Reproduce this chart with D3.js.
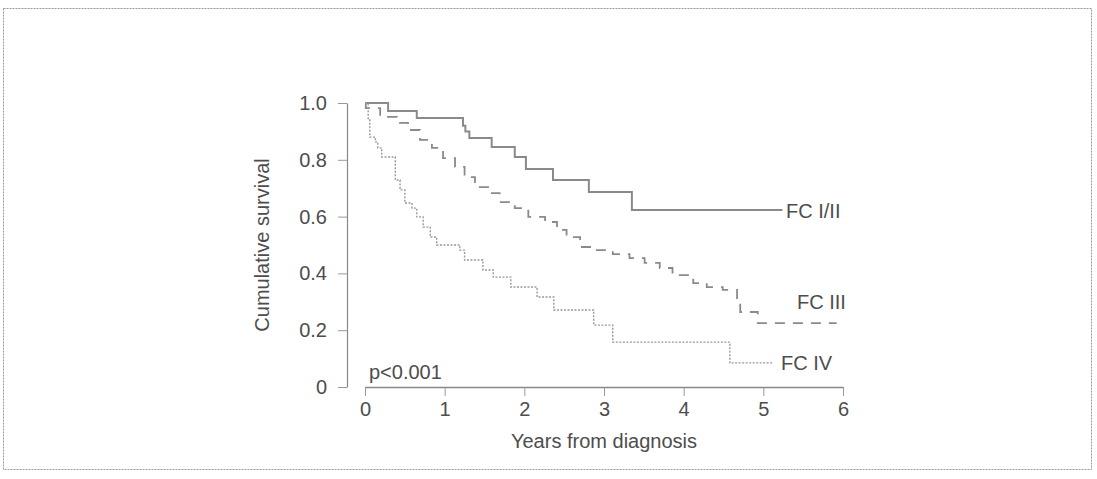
<!DOCTYPE html>
<html>
<head>
<meta charset="utf-8">
<script src="https://cdn.jsdelivr.net/npm/d3@7"></script>
<style>
  body { margin: 0; background: #fff; }
  text { font-family: "Liberation Sans", Arial, sans-serif; fill: #4d4d4d; }
</style>
</head>
<body>
<div id="chart"></div>
<script>
// survival curves (years, cumulative survival)
var fc12Times = [0, 0.29, 0.65, 1.23, 1.26, 1.31, 1.59, 1.88, 2.02, 2.36, 2.81, 3.35, 5.24];
var fc12Surv  = [1.0, 0.972, 0.947, 0.92, 0.90, 0.877, 0.845, 0.81, 0.768, 0.729, 0.687, 0.623, 0.623];

var fc3Times = [0, 0.01, 0.19, 0.40, 0.54, 0.69, 0.84, 0.98, 1.13, 1.25, 1.38, 1.57, 1.69, 1.88, 2.05,
                2.26, 2.41, 2.53, 2.70, 2.91, 3.11, 3.32, 3.51, 3.70, 3.86, 4.12, 4.29, 4.49, 4.67, 4.71, 4.93, 5.92];
var fc3Surv  = [1.0, 0.982, 0.951, 0.930, 0.905, 0.870, 0.842, 0.806, 0.775, 0.739, 0.704, 0.683, 0.651, 0.630, 0.599,
                0.581, 0.553, 0.528, 0.493, 0.482, 0.468, 0.454, 0.437, 0.419, 0.394, 0.366, 0.352, 0.342, 0.313, 0.264, 0.225, 0.225];

var fc4Times = [0, 0.04, 0.06, 0.13, 0.16, 0.21, 0.38, 0.44, 0.50, 0.59, 0.65, 0.73, 0.82, 0.90,
                1.19, 1.25, 1.48, 1.61, 1.83, 2.16, 2.37, 2.87, 3.11, 4.58, 5.12];
var fc4Surv  = [1.0, 0.94, 0.880, 0.863, 0.842, 0.810, 0.729, 0.694, 0.648, 0.630, 0.599, 0.563, 0.528, 0.500,
                0.482, 0.447, 0.412, 0.387, 0.352, 0.317, 0.271, 0.218, 0.158, 0.085, 0.085];

var yTicks = [0, 0.2, 0.4, 0.6, 0.8, 1.0];
var yTickLabels = ["0", "0.2", "0.4", "0.6", "0.8", "1.0"];
var xTicks = [0, 1, 2, 3, 4, 5, 6];
var xTickLabels = ["0", "1", "2", "3", "4", "5", "6"];

var svgWidth = 1097;
var svgHeight = 479;
var fontSize = "20px";

var svg = d3.select("#chart")
  .append("svg")
  .attr("width", svgWidth)
  .attr("height", svgHeight);

// dotted frame round the figure
svg.append("rect")
  .attr("x", 3.5)
  .attr("y", 8.5)
  .attr("width", 1088)
  .attr("height", 461)
  .attr("fill", "none")
  .attr("stroke", "#9a9a9a")
  .attr("stroke-width", 1)
  .attr("stroke-dasharray", "2,1");

var xScale = d3.scaleLinear().domain([0, 6]).range([365, 843]);
var yScale = d3.scaleLinear().domain([0, 1]).range([387, 103]);

var xAxis = d3.axisBottom(xScale).tickValues(xTicks).tickSize(9).tickSizeOuter(0).tickPadding(6)
  .tickFormat(function(d, i) { return xTickLabels[i]; });
var yAxis = d3.axisLeft(yScale).tickValues(yTicks).tickSize(9).tickSizeOuter(0).tickPadding(11)
  .tickFormat(function(d, i) { return yTickLabels[i]; });

var xg = svg.append("g")
  .attr("transform", "translate(0," + yScale(0) + ")")
  .call(xAxis);
var yg = svg.append("g")
  .attr("transform", "translate(347,0)")
  .call(yAxis);

[xg, yg].forEach(function(g) {
  g.select(".domain").attr("stroke", "#888").attr("stroke-width", 1.6);
  g.selectAll(".tick line").attr("stroke", "#999").attr("stroke-width", 1);
  g.selectAll(".tick text")
    .attr("font-size", fontSize)
    .attr("font-family", "Liberation Sans, Arial, sans-serif")
    .attr("fill", "#4d4d4d");
});
yg.select(".domain").attr("stroke-width", 1.2);

// axis titles
svg.append("text")
  .attr("x", xScale(3))
  .attr("y", 448)
  .attr("text-anchor", "middle")
  .attr("font-size", fontSize)
  .text("Years from diagnosis");

svg.append("text")
  .attr("transform", "translate(269," + yScale(0.5) + ") rotate(-90)")
  .attr("text-anchor", "middle")
  .attr("font-size", fontSize)
  .text("Cumulative survival");

var stepLine = d3.line()
  .x(function(d) { return xScale(d[0]); })
  .y(function(d) { return yScale(d[1]); })
  .curve(d3.curveStepAfter);

function pairs(t, s) {
  return t.map(function(v, i) { return [v, s[i]]; });
}

svg.append("path")
  .datum(pairs(fc12Times, fc12Surv))
  .attr("d", stepLine)
  .attr("fill", "none")
  .attr("stroke", "#8a8a8a")
  .attr("stroke-width", 2);

svg.append("path")
  .datum(pairs(fc3Times, fc3Surv))
  .attr("d", stepLine)
  .attr("fill", "none")
  .attr("stroke", "#8a8a8a")
  .attr("stroke-width", 1.8)
  .attr("stroke-dasharray", "10,8");

svg.append("path")
  .datum(pairs(fc4Times, fc4Surv))
  .attr("d", stepLine)
  .attr("fill", "none")
  .attr("stroke", "#999")
  .attr("stroke-width", 1.4)
  .attr("stroke-dasharray", "2,1.5");

// group labels
svg.append("text").attr("x", 786).attr("y", 218).attr("font-size", fontSize).text("FC I/II");
svg.append("text").attr("x", 797).attr("y", 309).attr("font-size", fontSize).text("FC III");
svg.append("text").attr("x", 781).attr("y", 370).attr("font-size", fontSize).text("FC IV");

svg.append("text").attr("x", 369).attr("y", 379).attr("font-size", fontSize).text("p<0.001");
</script>
</body>
</html>
